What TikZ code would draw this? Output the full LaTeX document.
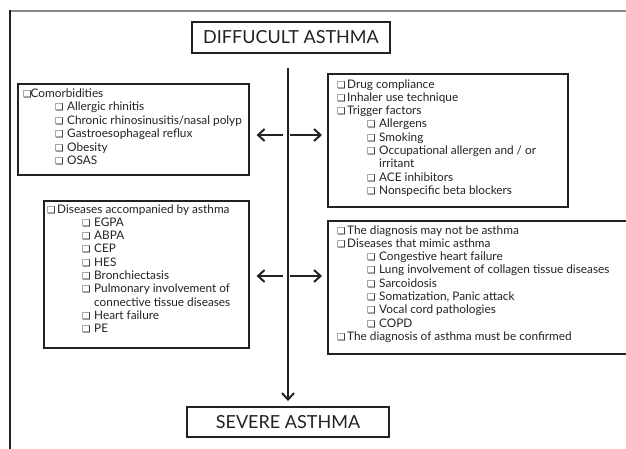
\documentclass[tikz,border=0pt]{standalone}
\usepackage{fontspec}
\setmainfont{Lato}
\newfontfamily\symf{DejaVu Sans}
\usetikzlibrary{arrows.meta}
\definecolor{ink}{HTML}{222222}
\definecolor{framegray}{HTML}{8A8A8A}
\newcommand\cb{{\symf\fontsize{9.5}{9.5}\selectfont ❑}}
\newcommand\cbw[1]{\makebox[#1][l]{\cb}}
\tikzset{
  box/.style={draw=ink,line width=1.6pt,anchor=north west,inner sep=0pt},
  bigbox/.style={draw=ink,line width=1.6pt,inner sep=0pt,text=ink,font=\fontsize{18}{20}\selectfont},
  txt/.style={anchor=base west,inner sep=0pt,text=ink,font=\fontsize{11.8}{13}\selectfont},
  arr/.style={draw=ink,line width=2pt,-{Straight Barb[length=6.5pt,width=12pt]}},
}
\newcommand\tline[4]{\node[txt] (#1) at (#2,#3) {#4};}
\begin{document}
\begin{tikzpicture}[x=1pt,y=-1pt]
\useasboundingbox (0,0) rectangle (626,448);
% frame
\draw[framegray,line width=1.5pt] (10,11) -- (627,11);
\draw[ink,line width=1.5pt] (10,10.3) -- (10,449);
% main boxes
\node[bigbox,minimum width=198pt,minimum height=31pt] (top) at (291,37.5) {DIFFUCULT ASTHMA};
\node[bigbox,minimum width=202pt,minimum height=30pt] (bot) at (288,422) {SEVERE ASTHMA};
\coordinate (vs) at (288,68);
\coordinate (ve) at (288,401);
\draw[arr] (vs) -- (ve);
% side boxes
\node[box,minimum width=231pt,minimum height=91pt] (lb1) at (17,83) {};
\node[box,minimum width=240pt,minimum height=133pt] (rb1) at (327,73) {};
\node[box,minimum width=205pt,minimum height=147pt] (lb2) at (43,200) {};
\node[box,minimum width=299pt,minimum height=133pt] (rb2) at (327,220) {};
% arrows
\coordinate (a1l) at (283,135);
\coordinate (a1r) at (290,135);
\coordinate (a2l) at (283,276);
\coordinate (a2r) at (290,276);
\draw[arr,shorten >=7pt] (a1l) -- (lb1.east |- a1l);
\draw[arr,shorten >=5pt] (a1r) -- (rb1.west |- a1r);
\draw[arr,shorten >=7pt] (a2l) -- (lb2.east |- a2l);
\draw[arr,shorten >=5pt] (a2r) -- (rb2.west |- a2r);
% left box 1
\tline{l1a}{23}{97.5}{\cbw{7.5pt}Comorbidities}
\tline{l1b}{55}{110.9}{\cbw{12pt}Allergic rhinitis}
\tline{l1c}{55}{124.3}{\cbw{12pt}Chronic rhinosinusitis/nasal polyp}
\tline{l1d}{55}{137.7}{\cbw{12pt}Gastroesophageal reflux}
\tline{l1e}{55}{151.1}{\cbw{12pt}Obesity}
\tline{l1f}{55}{164.5}{\cbw{12pt}OSAS}
% right box 1
\tline{r1a}{337}{88}{\cbw{10pt}Drug compliance}
\tline{r1b}{337}{101.3}{\cbw{10pt}Inhaler use technique}
\tline{r1c}{337}{114.6}{\cbw{10pt}Trigger factors}
\tline{r1d}{367}{127.9}{\cbw{12pt}Allergens}
\tline{r1e}{367}{141.2}{\cbw{12pt}Smoking}
\tline{r1f}{367}{154.5}{\cbw{12pt}Occupational allergen and / or}
\tline{r1g}{379}{167.8}{irritant}
\tline{r1h}{367}{181.1}{\cbw{12pt}ACE inhibitors}
\tline{r1i}{367}{194.4}{\cbw{12pt}Nonspecific beta blockers}
% left box 2
\tline{l2a}{47}{213}{\cbw{10pt}Diseases accompanied by asthma}
\tline{l2b}{82}{226.3}{\cbw{12pt}EGPA}
\tline{l2c}{82}{239.6}{\cbw{12pt}ABPA}
\tline{l2d}{82}{252.9}{\cbw{12pt}CEP}
\tline{l2e}{82}{266.2}{\cbw{12pt}HES}
\tline{l2f}{82}{279.5}{\cbw{12pt}Bronchiectasis}
\tline{l2g}{82}{292.8}{\cbw{12pt}Pulmonary involvement of}
\tline{l2h}{94}{306.1}{connective tissue diseases}
\tline{l2i}{82}{319.4}{\cbw{12pt}Heart failure}
\tline{l2j}{82}{332.7}{\cbw{12pt}PE}
% right box 2
\tline{r2a}{337}{234}{\cbw{10pt}The diagnosis may not be asthma}
\tline{r2b}{337}{247.3}{\cbw{10pt}Diseases that mimic asthma}
\tline{r2c}{367}{260.6}{\cbw{12pt}Congestive heart failure}
\tline{r2d}{367}{273.9}{\cbw{12pt}Lung involvement of collagen tissue diseases}
\tline{r2e}{367}{287.2}{\cbw{12pt}Sarcoidosis}
\tline{r2f}{367}{300.5}{\cbw{12pt}Somatization, Panic attack}
\tline{r2g}{367}{313.8}{\cbw{12pt}Vocal cord pathologies}
\tline{r2h}{367}{327.1}{\cbw{12pt}COPD}
\tline{r2i}{337}{340.4}{\cbw{10pt}The diagnosis of asthma must be confirmed}
\end{tikzpicture}
\end{document}
